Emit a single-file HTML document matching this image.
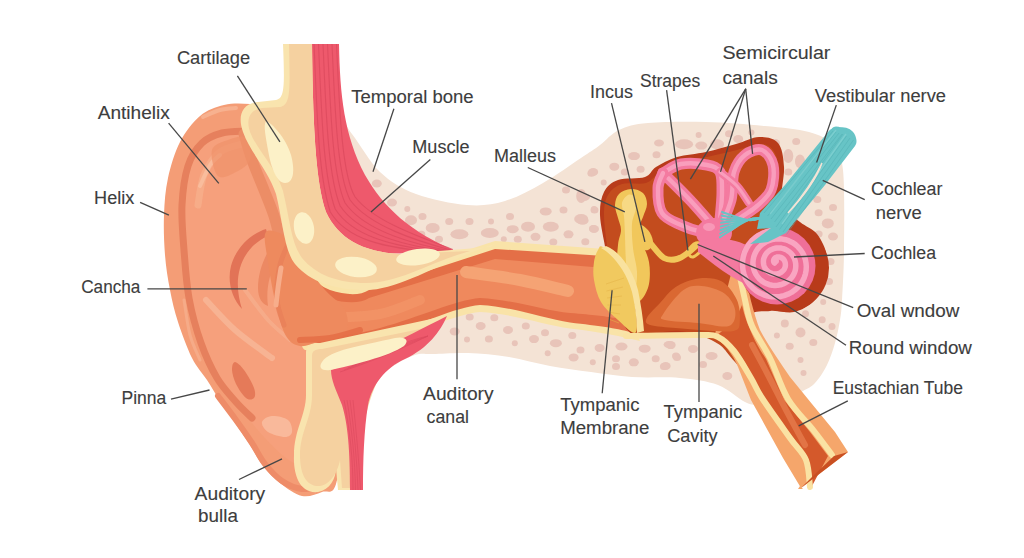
<!DOCTYPE html>
<html><head><meta charset="utf-8"><style>
html,body{margin:0;padding:0;background:#fff;width:1024px;height:558px;overflow:hidden}
svg{display:block}
text{font-family:"Liberation Sans",sans-serif;font-size:17.5px;fill:#3d3d3d;stroke:#3d3d3d;stroke-width:0.12px}
</style></head><body>
<svg width="1024" height="558" viewBox="0 0 1024 558">
<path d="M330.0,110.0 C332.8,97.3 343.7,123.7 352.0,134.0 C360.3,144.3 369.3,162.0 380.0,172.0 C390.7,182.0 401.5,188.5 416.0,194.0 C430.5,199.5 452.2,203.8 467.0,205.0 C481.8,206.2 492.3,204.7 505.0,201.0 C517.7,197.3 530.3,190.2 543.0,183.0 C555.7,175.8 571.5,164.3 581.0,158.0 C590.5,151.7 593.7,149.7 600.0,145.0 C606.3,140.3 611.0,133.7 619.0,130.0 C627.0,126.3 633.5,124.3 648.0,123.0 C662.5,121.7 686.5,121.5 706.0,122.0 C725.5,122.5 747.8,124.3 765.0,126.0 C782.2,127.7 797.7,128.8 809.0,132.0 C820.3,135.2 827.3,138.7 833.0,145.0 C838.7,151.3 841.2,152.5 843.0,170.0 C844.8,187.5 844.2,228.3 844.0,250.0 C843.8,271.7 842.7,288.3 842.0,300.0 C841.3,311.7 841.2,312.8 840.0,320.0 C838.8,327.2 837.2,335.5 835.0,343.0 C832.8,350.5 830.3,358.3 827.0,365.0 C823.7,371.7 819.0,378.7 815.0,383.0 C811.0,387.3 807.5,388.5 803.0,391.0 C798.5,393.5 792.7,396.2 788.0,398.0 C783.3,399.8 779.7,400.8 775.0,402.0 C770.3,403.2 765.0,405.0 760.0,405.0 C755.0,405.0 752.0,405.3 745.0,402.0 C738.0,398.7 728.8,389.0 718.0,385.0 C707.2,381.0 694.3,379.3 680.0,378.0 C665.7,376.7 646.8,378.0 632.0,377.0 C617.2,376.0 604.7,373.8 591.0,372.0 C577.3,370.2 563.7,368.5 550.0,366.0 C536.3,363.5 522.7,359.2 509.0,357.0 C495.3,354.8 480.7,353.5 468.0,353.0 C455.3,352.5 441.2,353.8 433.0,354.0 C424.8,354.2 423.7,353.2 419.0,354.0 C414.3,354.8 410.7,356.7 405.0,359.0 C399.3,361.3 390.8,369.5 385.0,368.0 C379.2,366.5 359.8,358.7 370.0,350.0 C380.2,341.3 429.3,330.7 446.0,316.0 C462.7,301.3 477.7,273.0 470.0,262.0 C462.3,251.0 422.5,258.7 400.0,250.0 C377.5,241.3 346.7,233.3 335.0,210.0 C323.3,186.7 327.2,122.7 330.0,110.0Z" fill="#f4e3d5" />
<ellipse cx="376.8" cy="183.5" rx="5" ry="4" fill="#e8c4b9"/>
<ellipse cx="392.0" cy="202.5" rx="5" ry="4" fill="#e8c4b9"/>
<ellipse cx="407.3" cy="208.9" rx="3" ry="3" fill="#e8c4b9"/>
<ellipse cx="411.0" cy="220.3" rx="6" ry="5" fill="#e8c4b9"/>
<ellipse cx="422.5" cy="216.5" rx="4" ry="3.5" fill="#e8c4b9"/>
<ellipse cx="432.7" cy="228.0" rx="7" ry="5" fill="#e8c4b9"/>
<ellipse cx="421.3" cy="234.3" rx="4" ry="3.5" fill="#e8c4b9"/>
<ellipse cx="439.0" cy="239.3" rx="4" ry="3.5" fill="#e8c4b9"/>
<ellipse cx="449.2" cy="221.6" rx="4" ry="3.5" fill="#e8c4b9"/>
<ellipse cx="459.4" cy="234.3" rx="9" ry="5" fill="#e8c4b9"/>
<ellipse cx="469.5" cy="221.6" rx="4" ry="3.5" fill="#e8c4b9"/>
<ellipse cx="489.8" cy="233.0" rx="9" ry="5" fill="#e8c4b9"/>
<ellipse cx="491.0" cy="221.6" rx="3" ry="3" fill="#e8c4b9"/>
<ellipse cx="510.0" cy="216.5" rx="4" ry="3.5" fill="#e8c4b9"/>
<ellipse cx="512.7" cy="229.2" rx="6" ry="4" fill="#e8c4b9"/>
<ellipse cx="528.0" cy="226.7" rx="7" ry="5" fill="#e8c4b9"/>
<ellipse cx="517.8" cy="239.3" rx="4" ry="3.5" fill="#e8c4b9"/>
<ellipse cx="535.5" cy="236.8" rx="5" ry="4" fill="#e8c4b9"/>
<ellipse cx="545.7" cy="211.4" rx="6" ry="4" fill="#e8c4b9"/>
<ellipse cx="550.8" cy="226.7" rx="8" ry="5" fill="#e8c4b9"/>
<ellipse cx="563.5" cy="210.0" rx="4" ry="3.5" fill="#e8c4b9"/>
<ellipse cx="568.5" cy="234.3" rx="5" ry="4" fill="#e8c4b9"/>
<ellipse cx="581.2" cy="219.0" rx="7" ry="5" fill="#e8c4b9"/>
<ellipse cx="566.0" cy="190.0" rx="4" ry="3.5" fill="#e8c4b9"/>
<ellipse cx="581.2" cy="196.0" rx="5" ry="7" fill="#e8c4b9"/>
<ellipse cx="591.4" cy="173.3" rx="4" ry="3.5" fill="#e8c4b9"/>
<ellipse cx="594.0" cy="209.0" rx="3" ry="3" fill="#e8c4b9"/>
<ellipse cx="594.0" cy="229.0" rx="5" ry="4" fill="#e8c4b9"/>
<ellipse cx="553.3" cy="241.9" rx="4" ry="3.5" fill="#e8c4b9"/>
<ellipse cx="503.8" cy="239.3" rx="3" ry="3" fill="#e8c4b9"/>
<ellipse cx="659.0" cy="143.0" rx="5" ry="3.5" fill="#e8c4b9"/>
<ellipse cx="684.1" cy="144.3" rx="9" ry="5" fill="#e8c4b9"/>
<ellipse cx="701.3" cy="145.6" rx="6" ry="4" fill="#e8c4b9"/>
<ellipse cx="717.0" cy="144.3" rx="7" ry="5" fill="#e8c4b9"/>
<ellipse cx="729.0" cy="133.7" rx="4" ry="3.5" fill="#e8c4b9"/>
<ellipse cx="738.2" cy="139.0" rx="5" ry="4" fill="#e8c4b9"/>
<ellipse cx="698.6" cy="135.0" rx="3" ry="3" fill="#e8c4b9"/>
<ellipse cx="751.4" cy="132.4" rx="3" ry="3" fill="#e8c4b9"/>
<ellipse cx="775.0" cy="143.0" rx="5" ry="4" fill="#e8c4b9"/>
<ellipse cx="796.2" cy="141.6" rx="4" ry="3.5" fill="#e8c4b9"/>
<ellipse cx="788.3" cy="156.0" rx="5" ry="7" fill="#e8c4b9"/>
<ellipse cx="800.0" cy="161.4" rx="5" ry="7" fill="#e8c4b9"/>
<ellipse cx="788.3" cy="172.0" rx="4" ry="3.5" fill="#e8c4b9"/>
<ellipse cx="634.0" cy="156.1" rx="6" ry="4" fill="#e8c4b9"/>
<ellipse cx="656.5" cy="154.8" rx="4" ry="3.5" fill="#e8c4b9"/>
<ellipse cx="614.3" cy="166.7" rx="5" ry="4" fill="#e8c4b9"/>
<ellipse cx="640.6" cy="169.3" rx="4" ry="3.5" fill="#e8c4b9"/>
<ellipse cx="624.8" cy="172.0" rx="4" ry="3.5" fill="#e8c4b9"/>
<ellipse cx="593.2" cy="172.0" rx="5" ry="4" fill="#e8c4b9"/>
<ellipse cx="603.7" cy="182.5" rx="3" ry="3" fill="#e8c4b9"/>
<ellipse cx="584.0" cy="197.0" rx="6" ry="4" fill="#e8c4b9"/>
<ellipse cx="594.5" cy="210.0" rx="4" ry="3.5" fill="#e8c4b9"/>
<ellipse cx="582.6" cy="220.7" rx="6" ry="4" fill="#e8c4b9"/>
<ellipse cx="593.2" cy="228.6" rx="4" ry="3.5" fill="#e8c4b9"/>
<ellipse cx="585.3" cy="241.8" rx="4" ry="3.5" fill="#e8c4b9"/>
<ellipse cx="817.3" cy="199.6" rx="4" ry="3.5" fill="#e8c4b9"/>
<ellipse cx="833.0" cy="207.5" rx="4" ry="3.5" fill="#e8c4b9"/>
<ellipse cx="818.6" cy="212.8" rx="4" ry="3.5" fill="#e8c4b9"/>
<ellipse cx="827.8" cy="223.4" rx="6" ry="5" fill="#e8c4b9"/>
<ellipse cx="818.6" cy="234.0" rx="4" ry="3.5" fill="#e8c4b9"/>
<ellipse cx="833.0" cy="236.5" rx="5" ry="4" fill="#e8c4b9"/>
<ellipse cx="469.7" cy="317.0" rx="4" ry="3.5" fill="#e8c4b9"/>
<ellipse cx="494.3" cy="317.8" rx="4" ry="3.5" fill="#e8c4b9"/>
<ellipse cx="480.7" cy="326.0" rx="5" ry="4" fill="#e8c4b9"/>
<ellipse cx="454.7" cy="331.4" rx="5" ry="4" fill="#e8c4b9"/>
<ellipse cx="508.0" cy="330.0" rx="5" ry="4" fill="#e8c4b9"/>
<ellipse cx="525.8" cy="326.0" rx="4" ry="3.5" fill="#e8c4b9"/>
<ellipse cx="545.0" cy="332.8" rx="4" ry="3.5" fill="#e8c4b9"/>
<ellipse cx="467.0" cy="339.6" rx="3" ry="3" fill="#e8c4b9"/>
<ellipse cx="488.9" cy="339.1" rx="4" ry="3.5" fill="#e8c4b9"/>
<ellipse cx="514.8" cy="343.2" rx="3" ry="3" fill="#e8c4b9"/>
<ellipse cx="534.0" cy="339.1" rx="5" ry="4" fill="#e8c4b9"/>
<ellipse cx="555.9" cy="343.2" rx="6" ry="4" fill="#e8c4b9"/>
<ellipse cx="572.3" cy="335.5" rx="4" ry="3.5" fill="#e8c4b9"/>
<ellipse cx="580.5" cy="350.0" rx="4" ry="3.5" fill="#e8c4b9"/>
<ellipse cx="547.7" cy="353.3" rx="3" ry="3" fill="#e8c4b9"/>
<ellipse cx="573.6" cy="357.4" rx="5" ry="4" fill="#e8c4b9"/>
<ellipse cx="599.6" cy="347.9" rx="5" ry="4" fill="#e8c4b9"/>
<ellipse cx="621.5" cy="346.5" rx="6" ry="4" fill="#e8c4b9"/>
<ellipse cx="644.7" cy="348.7" rx="6" ry="4" fill="#e8c4b9"/>
<ellipse cx="670.7" cy="345.1" rx="5" ry="4" fill="#e8c4b9"/>
<ellipse cx="616.0" cy="358.8" rx="4" ry="3.5" fill="#e8c4b9"/>
<ellipse cx="633.8" cy="362.3" rx="5" ry="4" fill="#e8c4b9"/>
<ellipse cx="655.7" cy="358.8" rx="4" ry="3.5" fill="#e8c4b9"/>
<ellipse cx="663.9" cy="366.4" rx="4" ry="3.5" fill="#e8c4b9"/>
<ellipse cx="616.0" cy="366.4" rx="4" ry="3.5" fill="#e8c4b9"/>
<ellipse cx="592.8" cy="362.3" rx="3" ry="3" fill="#e8c4b9"/>
<ellipse cx="676.0" cy="356.0" rx="4" ry="3.5" fill="#e8c4b9"/>
<ellipse cx="784.8" cy="323.6" rx="4" ry="4" fill="#e8c4b9"/>
<ellipse cx="800.5" cy="332.5" rx="5" ry="5" fill="#e8c4b9"/>
<ellipse cx="789.7" cy="346.3" rx="4" ry="3.5" fill="#e8c4b9"/>
<ellipse cx="813.3" cy="342.4" rx="4" ry="3.5" fill="#e8c4b9"/>
<ellipse cx="822.2" cy="319.7" rx="3.5" ry="3.5" fill="#e8c4b9"/>
<ellipse cx="832.0" cy="326.6" rx="3.5" ry="3.5" fill="#e8c4b9"/>
<ellipse cx="805.5" cy="313.8" rx="3.5" ry="3.5" fill="#e8c4b9"/>
<ellipse cx="776.9" cy="335.5" rx="3" ry="3" fill="#e8c4b9"/>
<ellipse cx="800.5" cy="360.0" rx="3" ry="3" fill="#e8c4b9"/>
<ellipse cx="803.5" cy="373.0" rx="3" ry="3" fill="#e8c4b9"/>
<ellipse cx="823.2" cy="302.0" rx="3" ry="3" fill="#e8c4b9"/>
<ellipse cx="829.0" cy="281.5" rx="4" ry="3.5" fill="#e8c4b9"/>
<ellipse cx="830.5" cy="261.5" rx="4" ry="3.5" fill="#e8c4b9"/>
<ellipse cx="668.6" cy="344.6" rx="5" ry="3.5" fill="#e8c4b9"/>
<ellipse cx="693.0" cy="348.9" rx="5" ry="4" fill="#e8c4b9"/>
<ellipse cx="711.6" cy="356.0" rx="6" ry="4" fill="#e8c4b9"/>
<ellipse cx="677.0" cy="357.5" rx="4" ry="3.5" fill="#e8c4b9"/>
<ellipse cx="665.7" cy="366.0" rx="5" ry="4" fill="#e8c4b9"/>
<ellipse cx="703.0" cy="364.6" rx="4" ry="3.5" fill="#e8c4b9"/>
<ellipse cx="727.3" cy="376.0" rx="5" ry="4" fill="#e8c4b9"/>
<path d="M311,44 L339,44 C340,95 344,135 365,175 C384,208 410,232 458,252 L380,254 C352,250 333,235 324,212 C315,180 313,120 311,44Z" fill="#ee596c"/>
<path d="M314.0,44 C317.0,110 318.1,175 330.3,212.0 C345.9,238.0 381.0,249.0 441.5,252.0" fill="none" stroke="#dc4a5e" stroke-width="1.1" opacity="0.8"/>
<path d="M318.5,44 C321.5,110 322.9,175 335.2,209.0 C351.8,235.0 390.0,247.0 443.8,251.5" fill="none" stroke="#dc4a5e" stroke-width="1.1" opacity="0.8"/>
<path d="M323.0,44 C326.0,110 327.6,175 340.2,206.0 C357.6,232.0 399.0,245.0 446.0,251.0" fill="none" stroke="#dc4a5e" stroke-width="1.1" opacity="0.8"/>
<path d="M327.5,44 C330.5,110 332.3,175 345.1,203.0 C363.4,229.0 408.0,243.0 448.2,250.5" fill="none" stroke="#dc4a5e" stroke-width="1.1" opacity="0.8"/>
<path d="M332.0,44 C335.0,110 337.1,175 350.1,200.0 C369.3,226.0 417.0,241.0 450.5,250.0" fill="none" stroke="#dc4a5e" stroke-width="1.1" opacity="0.8"/>
<path d="M336.5,44 C339.5,110 341.8,175 355.1,197.0 C375.1,223.0 426.0,239.0 452.8,249.5" fill="none" stroke="#dc4a5e" stroke-width="1.1" opacity="0.8"/>
<path d="M250.0,104.0 C241.3,103.5 232.3,103.0 224.0,105.0 C215.7,107.0 207.3,109.8 200.0,116.0 C192.7,122.2 185.3,131.7 180.0,142.0 C174.7,152.3 170.7,165.8 168.0,178.0 C165.3,190.2 164.5,202.2 164.0,215.0 C163.5,227.8 164.0,242.5 165.0,255.0 C166.0,267.5 167.8,278.8 170.0,290.0 C172.2,301.2 174.3,310.7 178.0,322.0 C181.7,333.3 187.2,348.3 192.0,358.0 C196.8,367.7 202.3,372.8 207.0,380.0 C211.7,387.2 215.3,393.8 220.0,401.0 C224.7,408.2 230.0,415.7 235.0,423.0 C240.0,430.3 245.3,437.8 250.0,445.0 C254.7,452.2 258.0,459.7 263.0,466.0 C268.0,472.3 273.5,478.0 280.0,483.0 C286.5,488.0 295.0,494.5 302.0,496.0 C309.0,497.5 316.3,494.0 322.0,492.0 C327.7,490.0 332.2,496.0 336.0,484.0 C339.8,472.0 346.0,444.0 345.0,420.0 C344.0,396.0 335.8,363.3 330.0,340.0 C324.2,316.7 315.0,300.0 310.0,280.0 C305.0,260.0 303.3,241.7 300.0,220.0 C296.7,198.3 294.0,168.7 290.0,150.0 C286.0,131.3 282.7,115.7 276.0,108.0 C269.3,100.3 258.7,104.5 250.0,104.0Z" fill="#f49d76" />
<path d="M248.0,128.0 C241.3,128.5 230.0,128.7 222.0,131.0 C214.0,133.3 205.8,136.2 200.0,142.0 C194.2,147.8 190.2,155.5 187.0,166.0 C183.8,176.5 181.7,191.0 181.0,205.0 C180.3,219.0 181.8,234.5 183.0,250.0 C184.2,265.5 185.2,282.5 188.0,298.0 C190.8,313.5 195.3,329.7 200.0,343.0 C204.7,356.3 209.3,367.2 216.0,378.0 C222.7,388.8 231.8,398.0 240.0,408.0 C248.2,418.0 256.3,429.0 265.0,438.0 C273.7,447.0 282.8,456.7 292.0,462.0 C301.2,467.3 311.2,477.0 320.0,470.0 C328.8,463.0 343.3,441.7 345.0,420.0 C346.7,398.3 335.8,363.3 330.0,340.0 C324.2,316.7 315.0,300.0 310.0,280.0 C305.0,260.0 303.3,241.7 300.0,220.0 C296.7,198.3 296.3,165.3 290.0,150.0 C283.7,134.7 269.0,131.7 262.0,128.0 C255.0,124.3 254.7,127.5 248.0,128.0Z" fill="#f6a07c" />
<path d="M246.0,131.0 C242.0,131.3 229.3,131.0 222.0,133.0 C214.7,135.0 207.7,137.5 202.0,143.0 C196.3,148.5 191.3,155.7 188.0,166.0 C184.7,176.3 182.7,191.0 182.0,205.0 C181.3,219.0 182.8,234.5 184.0,250.0 C185.2,265.5 186.2,282.5 189.0,298.0 C191.8,313.5 196.3,329.7 201.0,343.0 C205.7,356.3 211.2,368.2 217.0,378.0 C222.8,387.8 230.2,395.3 236.0,402.0 C241.8,408.7 249.3,415.3 252.0,418.0" fill="none" stroke="#e6805d" stroke-width="7" stroke-linecap="round" stroke-linejoin="round" />
<path d="M203.0,117.0 C205.8,115.8 214.5,111.5 220.0,110.0 C225.5,108.5 233.3,108.3 236.0,108.0" fill="none" stroke="#f7b18f" stroke-width="4" stroke-linecap="round" stroke-linejoin="round" />
<path d="M184.0,300.0 C185.0,305.8 187.3,325.0 190.0,335.0 C192.7,345.0 198.3,355.8 200.0,360.0" fill="none" stroke="#f6ab88" stroke-width="3" stroke-linecap="round" stroke-linejoin="round" />
<path d="M198.0,205.0 C199.0,200.0 200.3,183.8 204.0,175.0 C207.7,166.2 213.0,157.3 220.0,152.0 C227.0,146.7 241.7,144.5 246.0,143.0" fill="none" stroke="#f7ae8b" stroke-width="7" stroke-linecap="round" stroke-linejoin="round" opacity="0.85"/>
<path d="M200.0,186.0 C201.7,182.5 206.7,170.2 210.0,165.0 C213.3,159.8 218.3,156.7 220.0,155.0" fill="none" stroke="#f9bc9c" stroke-width="4" stroke-linecap="round" stroke-linejoin="round" />
<path d="M206.0,300.0 C210.8,305.0 224.0,320.3 235.0,330.0 C246.0,339.7 265.8,353.3 272.0,358.0" fill="none" stroke="#f7b393" stroke-width="6" stroke-linecap="round" stroke-linejoin="round" />
<path d="M245.0,290.0 C248.8,295.0 260.5,311.7 268.0,320.0 C275.5,328.3 286.3,336.7 290.0,340.0" fill="none" stroke="#f7b393" stroke-width="4" stroke-linecap="round" stroke-linejoin="round" opacity="0.6"/>
<path d="M235.0,362.0 C237.0,362.0 240.8,365.7 244.0,370.0 C247.2,374.3 252.3,383.3 254.0,388.0 C255.7,392.7 255.3,396.3 254.0,398.0 C252.7,399.7 249.0,400.3 246.0,398.0 C243.0,395.7 238.3,388.7 236.0,384.0 C233.7,379.3 232.2,373.7 232.0,370.0 C231.8,366.3 233.0,362.0 235.0,362.0Z" fill="#e57a59" />
<path d="M244.0,134.0 C245.3,138.3 248.7,150.7 252.0,160.0 C255.3,169.3 260.3,180.7 264.0,190.0 C267.7,199.3 271.3,207.7 274.0,216.0 C276.7,224.3 279.0,236.0 280.0,240.0" fill="none" stroke="#ec8d66" stroke-width="11" stroke-linecap="round" stroke-linejoin="round" />
<path d="M212.0,150.0 C213.7,144.0 222.3,142.0 228.0,140.0 C233.7,138.0 242.3,134.7 246.0,138.0 C249.7,141.3 251.7,154.3 250.0,160.0 C248.3,165.7 241.3,169.3 236.0,172.0 C230.7,174.7 222.0,179.7 218.0,176.0 C214.0,172.3 210.3,156.0 212.0,150.0Z" fill="#ef9169" opacity="0.7"/>
<path d="M266,229 C250,234 236,248 231,266 C227,282 232,298 242,309 C238,296 236,282 240,268 C244,254 254,242 268,236Z" fill="#e27357"/>
<path d="M276,240 C266,252 258,270 258,288 C258,298 262,304 268,306 C266,292 268,274 280,252Z" fill="#ec8963"/>
<path d="M262.0,422.0 C262.7,419.3 267.7,416.3 272.0,416.0 C276.3,415.7 284.7,417.3 288.0,420.0 C291.3,422.7 292.5,429.2 292.0,432.0 C291.5,434.8 289.0,437.0 285.0,437.0 C281.0,437.0 271.8,434.5 268.0,432.0 C264.2,429.5 261.3,424.7 262.0,422.0Z" fill="#f9b99b" />
<path d="M218.0,396.0 C221.0,400.0 230.3,412.2 236.0,420.0 C241.7,427.8 247.2,435.7 252.0,443.0 C256.8,450.3 260.0,457.7 265.0,464.0 C270.0,470.3 275.8,476.8 282.0,481.0 C288.2,485.2 295.7,488.2 302.0,489.0 C308.3,489.8 317.0,486.5 320.0,486.0" fill="none" stroke="#ee8c68" stroke-width="6" stroke-linecap="round" stroke-linejoin="round" />
<path d="M288,240 C295,250 310,270 330,278 C345,283 360,283 369,282 L495,241 L605,249 L640,341 C620,336 600,332 570,328.5 C545,325 515,314 480,312 C455,314 420,332 380,344 C360,350 340,352 330,352 L305,350 C298,345 292,320 288,240Z" fill="#f9e3a8"/>
<path d="M280,246 C290,256 310,282 330,290 C345,295 360,296 369,290 L495,249 L605,256 L630,332 C615,328 600,326 570,322.5 C545,319 515,307 480,305 C455,307 420,325 380,336 C360,342 340,344 330,344 L305,342 C296,335 288,320 280,246Z" fill="#e46f47"/>
<path d="M270,255 C285,270 310,292 330,299 C345,303 360,304 369,298 L495,259 L605,268 L615,318 C603,316 595,315 570,313 C545,311 515,300 480,298 C455,300 420,317 380,328 C360,334 340,336 330,336 L305,334 C292,328 280,310 270,255Z" fill="#ef895d"/>
<path d="M466.0,272.0 C475.0,273.3 503.0,276.8 520.0,280.0 C537.0,283.2 560.0,289.2 568.0,291.0" fill="none" stroke="#f5a374" stroke-width="12" stroke-linecap="round" stroke-linejoin="round" />
<path d="M330.0,318.0 C338.3,317.3 365.0,317.0 380.0,314.0 C395.0,311.0 413.3,302.3 420.0,300.0" fill="none" stroke="#f3986b" stroke-width="10" stroke-linecap="round" stroke-linejoin="round" opacity="0.6"/>
<path d="M266.0,232.0 C269.3,228.0 281.7,233.0 288.0,238.0 C294.3,243.0 297.8,253.3 304.0,262.0 C310.2,270.7 318.2,282.0 325.0,290.0 C331.8,298.0 341.7,302.7 345.0,310.0 C348.3,317.3 349.5,328.7 345.0,334.0 C340.5,339.3 325.5,340.0 318.0,342.0 C310.5,344.0 305.3,347.0 300.0,346.0 C294.7,345.0 290.0,342.8 286.0,336.0 C282.0,329.2 279.0,317.3 276.0,305.0 C273.0,292.7 269.7,274.2 268.0,262.0 C266.3,249.8 262.7,236.0 266.0,232.0Z" fill="#ee8a5e" />
<path d="M300.0,340.0 C305.0,339.7 320.0,339.7 330.0,338.0 C340.0,336.3 355.0,331.3 360.0,330.0" fill="none" stroke="#e46f47" stroke-width="6" stroke-linecap="round" stroke-linejoin="round" opacity="0.9"/>
<path d="M290.0,240.0 C288.3,244.2 282.2,255.0 280.0,265.0 C277.8,275.0 276.3,290.0 277.0,300.0 C277.7,310.0 282.8,320.8 284.0,325.0" fill="none" stroke="#e97f59" stroke-width="5" stroke-linecap="round" stroke-linejoin="round" opacity="0.8"/>
<path d="M281.0,268.0 C280.5,271.3 278.8,281.8 278.0,288.0 C277.2,294.2 276.3,302.2 276.0,305.0" fill="none" stroke="#f7ad8b" stroke-width="5" stroke-linecap="round" stroke-linejoin="round" />
<path d="M281,44 L312,44 C313,120 315,180 326,212 C338,238 362,252 400,254 L490,247 L495,244 C440,262 400,290 366,290 C335,290 310,282 295,264 C284,250 283,222 276,194 C268,170 250,152 243,132 C238,118 240,104 258,102 L276,100 C284,98 285,90 283,44Z" fill="#f9e4ae"/>
<path d="M288,44 L312,44 C313,120 315,180 326,212 C338,238 362,252 400,254 L470,251 C430,262 400,283 366,283 C338,283 316,275 302,258 C291,243 290,220 283,191 C275,166 257,150 250,132 C246,120 249,110 262,108 L280,107 C291,105 290,90 289,44Z" fill="#f5d1a0"/>
<path d="M266,121 C272,123 286,138 291,155 C295,170 294,183 285,183 C277,183 271,168 268,150 C266,138 263,125 266,121Z" fill="#fcf1c8"/>
<ellipse cx="304" cy="228" rx="10" ry="16" fill="#fcf1c8" transform="rotate(-10 304 228)"/>
<ellipse cx="356" cy="267" rx="21" ry="10" fill="#fcf1c8" transform="rotate(8 356 267)"/>
<ellipse cx="418" cy="257" rx="22" ry="8" fill="#fcf1c8" transform="rotate(-8 418 257)"/>
<path d="M306,352 C306,346 312,343 320,343 L445,316 C425,335 395,352 372,366 C358,380 354,430 354,490 L338,490 L336,468 C336,478 330,490 318,492 C300,494 293,475 294,455 C294,430 306,415 306,395Z" fill="#f9e4ae"/>
<path d="M312,356 C312,351 315,349 322,349 L440,325 C420,345 392,362 378,380 C368,400 358,440 356,488 L342,488 L340,460 C338,470 332,484 320,486 C305,487 300,472 300,455 C300,432 312,418 312,395Z" fill="#f5d1a0"/>
<path d="M331,370 C360,360 400,340 447,316 C440,332 428,348 405,359 C385,368 372,385 368,405 C364,430 363,460 363,490 L350,490 C350,450 348,425 342,405 C336,390 331,380 331,370Z" fill="#ee596c"/>
<path d="M340,372 C365,364 395,352 428,336" fill="none" stroke="#dc4a5e" stroke-width="1" opacity="0.6"/>
<path d="M344,400 C350,430 353,460 353.0,490" fill="none" stroke="#dc4a5e" stroke-width="1" opacity="0.6"/>
<path d="M344,370 C369,361 399,348 428,336" fill="none" stroke="#dc4a5e" stroke-width="1" opacity="0.6"/>
<path d="M347,400 C352,430 355,460 355.5,490" fill="none" stroke="#dc4a5e" stroke-width="1" opacity="0.6"/>
<path d="M348,368 C373,358 403,344 428,336" fill="none" stroke="#dc4a5e" stroke-width="1" opacity="0.6"/>
<path d="M350,400 C354,430 357,460 358.0,490" fill="none" stroke="#dc4a5e" stroke-width="1" opacity="0.6"/>
<path d="M352,366 C377,355 407,340 428,336" fill="none" stroke="#dc4a5e" stroke-width="1" opacity="0.6"/>
<path d="M353,400 C356,430 359,460 360.5,490" fill="none" stroke="#dc4a5e" stroke-width="1" opacity="0.6"/>
<path d="M322,362 C330,350 360,346 395,338 C405,336 410,340 404,346 C390,356 350,366 330,370 C322,371 318,368 322,362Z" fill="#fcf1c8"/>
<path d="M612.0,290.0 C607.7,276.3 608.0,264.5 606.0,252.0 C604.0,239.5 600.3,225.0 600.0,215.0 C599.7,205.0 601.0,197.8 604.0,192.0 C607.0,186.2 611.2,182.5 618.0,180.0 C624.8,177.5 638.7,179.2 645.0,177.0 C651.3,174.8 650.7,170.3 656.0,167.0 C661.3,163.7 668.7,159.5 677.0,157.0 C685.3,154.5 696.2,154.2 706.0,152.0 C715.8,149.8 727.2,146.5 736.0,144.0 C744.8,141.5 752.0,137.2 759.0,137.0 C766.0,136.8 773.8,138.0 778.0,143.0 C782.2,148.0 783.3,156.7 784.0,167.0 C784.7,177.3 779.3,195.8 782.0,205.0 C784.7,214.2 794.2,217.2 800.0,222.0 C805.8,226.8 812.5,228.3 817.0,234.0 C821.5,239.7 825.5,248.2 827.0,256.0 C828.5,263.8 828.2,273.5 826.0,281.0 C823.8,288.5 819.3,295.8 814.0,301.0 C808.7,306.2 801.3,310.3 794.0,312.0 C786.7,313.7 777.3,309.7 770.0,311.0 C762.7,312.3 750.0,308.5 750.0,320.0 C750.0,331.5 761.7,355.0 770.0,380.0 C778.3,405.0 796.7,461.7 800.0,470.0 C803.3,478.3 800.8,448.3 790.0,430.0 C779.2,411.7 746.7,375.0 735.0,360.0 C723.3,345.0 729.2,344.3 720.0,340.0 C710.8,335.7 694.7,335.0 680.0,334.0 C665.3,333.0 643.3,341.3 632.0,334.0 C620.7,326.7 616.3,303.7 612.0,290.0Z" fill="#b83b1a" />
<path d="M614.0,290.0 C609.7,276.8 609.7,264.5 608.0,252.0 C606.3,239.5 604.0,224.5 604.0,215.0 C604.0,205.5 605.0,200.2 608.0,195.0 C611.0,189.8 615.7,186.0 622.0,184.0 C628.3,182.0 639.7,185.0 646.0,183.0 C652.3,181.0 654.3,175.5 660.0,172.0 C665.7,168.5 672.2,164.5 680.0,162.0 C687.8,159.5 697.5,159.0 707.0,157.0 C716.5,155.0 728.2,152.2 737.0,150.0 C745.8,147.8 754.0,144.0 760.0,144.0 C766.0,144.0 770.0,146.0 773.0,150.0 C776.0,154.0 777.5,158.8 778.0,168.0 C778.5,177.2 773.0,195.3 776.0,205.0 C779.0,214.7 790.0,220.5 796.0,226.0 C802.0,231.5 807.8,232.8 812.0,238.0 C816.2,243.2 819.7,250.0 821.0,257.0 C822.3,264.0 821.8,273.3 820.0,280.0 C818.2,286.7 814.7,292.7 810.0,297.0 C805.3,301.3 798.7,304.8 792.0,306.0 C785.3,307.2 777.3,305.0 770.0,304.0 C762.7,303.0 748.0,287.3 748.0,300.0 C748.0,312.7 762.2,352.5 770.0,380.0 C777.8,407.5 791.7,456.7 795.0,465.0 C798.3,473.3 800.0,447.2 790.0,430.0 C780.0,412.8 747.5,376.7 735.0,362.0 C722.5,347.3 724.2,347.2 715.0,342.0 C705.8,336.8 693.5,332.8 680.0,331.0 C666.5,329.2 645.0,337.8 634.0,331.0 C623.0,324.2 618.3,303.2 614.0,290.0Z" fill="#c34c1e" />
<path d="M714,337 C728,346 736,360 740,372 L751,400 L783,458 L801,488 L848,452 L835,432 L812,404 L790,377 C780,362 768,345 760,330 C754,315 748,290 742,262 L734,262 C727,290 720,318 714,337Z" fill="#f5a66b"/>
<path d="M742,305 C744,314 746,320 749,327 C755,342 760,350 766,359 L784,400 L810,432 L828,456 L812,486 L808,458 L765,400 C760,390 756,383 753,378 C747,366 742,356 737,353 C730,345 722,340 712,338 C722,332 736,322 742,305Z" fill="#d4592b"/>
<path d="M752.0,345.0 C754.7,350.0 762.3,364.2 768.0,375.0 C773.7,385.8 779.8,398.3 786.0,410.0 C792.2,421.7 801.8,439.2 805.0,445.0" fill="none" stroke="#e4794a" stroke-width="6" stroke-linecap="round" stroke-linejoin="round" opacity="0.85"/>
<path d="M737.0,262.0 C738.3,268.3 742.5,289.3 745.0,300.0 C747.5,310.7 747.8,316.3 752.0,326.0 C756.2,335.7 764.0,345.8 770.0,358.0 C776.0,370.2 780.7,386.8 788.0,399.0 C795.3,411.2 806.7,421.7 814.0,431.0 C821.3,440.3 829.0,451.0 832.0,455.0" fill="none" stroke="#fae2a3" stroke-width="6" stroke-linecap="round" stroke-linejoin="round" />
<path d="M626.0,336.0 C638.3,335.8 684.7,334.8 700.0,335.0 C715.3,335.2 712.3,334.3 718.0,337.0 C723.7,339.7 728.5,344.2 734.0,351.0 C739.5,357.8 746.3,370.2 751.0,378.0 C755.7,385.8 755.5,388.0 762.0,398.0 C768.5,408.0 782.7,427.7 790.0,438.0 C797.3,448.3 802.7,451.8 806.0,460.0 C809.3,468.2 809.3,482.5 810.0,487.0" fill="none" stroke="#fae2a3" stroke-width="6" stroke-linecap="round" stroke-linejoin="round" />
<path d="M801,488 L848,452 L834,456 L812,477 Z" fill="#c94f22"/>
<path d="M798,489 L803,489 L800,486Z" fill="#f5a66b"/>
<path d="M646.8,318.0 C648.5,314.3 655.2,308.2 660.0,303.0 C664.8,297.8 669.3,291.1 675.7,287.0 C682.1,282.9 691.0,279.4 698.6,278.5 C706.2,277.6 715.1,277.8 721.5,281.3 C727.9,284.8 733.7,293.0 736.7,299.6 C739.8,306.2 740.3,315.8 739.8,321.0 C739.3,326.2 740.3,329.5 733.7,331.0 C727.1,332.5 709.7,330.5 700.0,330.0 C690.3,329.5 684.0,328.8 675.7,328.0 C667.4,327.2 654.8,326.7 650.0,325.0 C645.2,323.3 645.1,321.7 646.8,318.0Z" fill="#da6832" />
<path d="M663.5,313.4 C666.6,308.4 677.0,294.6 683.4,290.0 C689.8,285.4 694.8,285.4 701.6,286.0 C708.5,286.6 718.9,289.4 724.5,293.5 C730.1,297.6 734.5,304.9 735.2,310.3 C736.0,315.7 735.1,323.9 729.0,326.0 C722.9,328.1 709.3,324.0 698.6,323.0 C687.9,322.0 670.9,321.6 665.0,320.0 C659.1,318.4 660.4,318.4 663.5,313.4Z" fill="#e8834f" />
<path d="M642.0,232.0 C643.5,234.0 647.3,239.7 651.0,244.0 C654.7,248.3 659.7,255.5 664.0,258.0 C668.3,260.5 672.8,260.0 677.0,259.0 C681.2,258.0 685.7,254.3 689.0,252.0 C692.3,249.7 695.7,246.2 697.0,245.0" fill="none" stroke="#f1c75b" stroke-width="6" stroke-linecap="round" stroke-linejoin="round" />
<path d="M696.0,243.0 C698.8,242.2 705.5,243.7 705.0,246.0 C704.5,248.3 695.8,256.2 693.0,257.0 C690.2,257.8 687.5,253.3 688.0,251.0 C688.5,248.7 693.2,243.8 696.0,243.0Z" fill="none" stroke="#f1c75b" stroke-width="3" stroke-linecap="round" stroke-linejoin="round" />
<path d="M638.0,225.0 C639.3,222.3 645.5,227.2 648.0,230.0 C650.5,232.8 653.0,238.7 653.0,242.0 C653.0,245.3 650.2,249.3 648.0,250.0 C645.8,250.7 641.7,250.2 640.0,246.0 C638.3,241.8 636.7,227.7 638.0,225.0Z" fill="#f1c75b" />
<path d="M631.0,189.0 C635.0,188.8 640.3,190.5 643.0,193.0 C645.7,195.5 647.0,200.0 647.0,204.0 C647.0,208.0 644.3,213.0 643.0,217.0 C641.7,221.0 639.2,223.8 639.0,228.0 C638.8,232.2 640.3,236.3 642.0,242.0 C643.7,247.7 647.8,255.0 649.0,262.0 C650.2,269.0 650.2,277.8 649.0,284.0 C647.8,290.2 644.8,295.7 642.0,299.0 C639.2,302.3 635.3,304.5 632.0,304.0 C628.7,303.5 624.5,301.3 622.0,296.0 C619.5,290.7 617.7,280.5 617.0,272.0 C616.3,263.5 617.3,252.0 618.0,245.0 C618.7,238.0 621.0,234.5 621.0,230.0 C621.0,225.5 619.0,222.2 618.0,218.0 C617.0,213.8 614.8,209.0 615.0,205.0 C615.2,201.0 616.3,196.7 619.0,194.0 C621.7,191.3 627.0,189.2 631.0,189.0Z" fill="#f1c75b" />
<path d="M628.0,195.0 C630.0,194.0 632.7,194.8 634.0,197.0 C635.3,199.2 636.3,203.5 636.0,208.0 C635.7,212.5 632.5,217.3 632.0,224.0 C631.5,230.7 632.2,240.0 633.0,248.0 C633.8,256.0 636.7,265.0 637.0,272.0 C637.3,279.0 636.3,287.0 635.0,290.0 C633.7,293.0 630.5,294.7 629.0,290.0 C627.5,285.3 626.7,271.0 626.0,262.0 C625.3,253.0 625.3,243.7 625.0,236.0 C624.7,228.3 624.5,221.5 624.0,216.0 C623.5,210.5 621.3,206.5 622.0,203.0 C622.7,199.5 626.0,196.0 628.0,195.0Z" fill="#f8dc8c" opacity="0.85"/>
<path d="M598.0,250.0 C599.5,247.5 599.2,244.8 603.0,247.0 C606.8,249.2 616.0,255.2 621.0,263.0 C626.0,270.8 630.5,282.5 633.0,294.0 C635.5,305.5 638.5,327.7 636.0,332.0 C633.5,336.3 623.8,325.0 618.0,320.0 C612.2,315.0 605.0,308.7 601.0,302.0 C597.0,295.3 595.2,286.7 594.0,280.0 C592.8,273.3 593.3,267.0 594.0,262.0 C594.7,257.0 596.5,252.5 598.0,250.0Z" fill="#f1c95f" />
<path d="M624,278 L606.0,284" stroke="#e6b54a" stroke-width="0.8" opacity="0.7"/>
<path d="M623,287 L606.5,291" stroke="#e6b54a" stroke-width="0.8" opacity="0.7"/>
<path d="M622,296 L607.0,298" stroke="#e6b54a" stroke-width="0.8" opacity="0.7"/>
<path d="M621,305 L607.5,305" stroke="#e6b54a" stroke-width="0.8" opacity="0.7"/>
<path d="M620,314 L608.0,312" stroke="#e6b54a" stroke-width="0.8" opacity="0.7"/>
<path d="M619,323 L608.5,319" stroke="#e6b54a" stroke-width="0.8" opacity="0.7"/>
<path d="M601,248 C612,254 626,270 632,292 C636,310 637,322 637,333 L644,331 C643,318 641,305 638,290 C632,268 620,252 606,246Z" fill="#f9e29f"/>
<path d="M713.0,226.0 C709.2,221.7 698.3,208.8 690.0,200.0 C681.7,191.2 667.5,177.5 663.0,173.0" fill="none" stroke="#f47aa0" stroke-width="11" stroke-linecap="round" stroke-linejoin="round" />
<path d="M713.0,226.0 C709.2,221.7 698.3,208.8 690.0,200.0 C681.7,191.2 667.5,177.5 663.0,173.0" fill="none" stroke="#f9a5c1" stroke-width="4.4" stroke-linecap="round" stroke-linejoin="round" opacity="0.85"/>
<path d="M663.0,173.0 C666.0,171.5 673.7,165.3 681.0,164.0 C688.3,162.7 700.5,163.7 707.0,165.0 C713.5,166.3 717.5,167.3 720.0,172.0 C722.5,176.7 722.0,185.0 722.0,193.0 C722.0,201.0 720.3,215.5 720.0,220.0" fill="none" stroke="#f47aa0" stroke-width="11" stroke-linecap="round" stroke-linejoin="round" />
<path d="M663.0,173.0 C666.0,171.5 673.7,165.3 681.0,164.0 C688.3,162.7 700.5,163.7 707.0,165.0 C713.5,166.3 717.5,167.3 720.0,172.0 C722.5,176.7 722.0,185.0 722.0,193.0 C722.0,201.0 720.3,215.5 720.0,220.0" fill="none" stroke="#f9a5c1" stroke-width="4.4" stroke-linecap="round" stroke-linejoin="round" opacity="0.85"/>
<path d="M663.0,173.0 C662.2,175.5 658.2,181.3 658.0,188.0 C657.8,194.7 658.2,206.8 662.0,213.0 C665.8,219.2 674.3,221.8 681.0,225.0 C687.7,228.2 696.5,230.8 702.0,232.0 C707.5,233.2 712.0,232.0 714.0,232.0" fill="none" stroke="#f47aa0" stroke-width="11" stroke-linecap="round" stroke-linejoin="round" />
<path d="M663.0,173.0 C662.2,175.5 658.2,181.3 658.0,188.0 C657.8,194.7 658.2,206.8 662.0,213.0 C665.8,219.2 674.3,221.8 681.0,225.0 C687.7,228.2 696.5,230.8 702.0,232.0 C707.5,233.2 712.0,232.0 714.0,232.0" fill="none" stroke="#f9a5c1" stroke-width="4.4" stroke-linecap="round" stroke-linejoin="round" opacity="0.85"/>
<path d="M720.0,228.0 C721.8,223.3 728.7,209.3 731.0,200.0 C733.3,190.7 731.7,179.5 734.0,172.0 C736.3,164.5 740.3,158.7 745.0,155.0 C749.7,151.3 757.3,148.3 762.0,150.0 C766.7,151.7 771.5,158.3 773.0,165.0 C774.5,171.7 773.7,183.2 771.0,190.0 C768.3,196.8 762.2,201.3 757.0,206.0 C751.8,210.7 745.8,213.7 740.0,218.0 C734.2,222.3 725.0,229.7 722.0,232.0" fill="none" stroke="#f47aa0" stroke-width="11" stroke-linecap="round" stroke-linejoin="round" />
<path d="M720.0,228.0 C721.8,223.3 728.7,209.3 731.0,200.0 C733.3,190.7 731.7,179.5 734.0,172.0 C736.3,164.5 740.3,158.7 745.0,155.0 C749.7,151.3 757.3,148.3 762.0,150.0 C766.7,151.7 771.5,158.3 773.0,165.0 C774.5,171.7 773.7,183.2 771.0,190.0 C768.3,196.8 762.2,201.3 757.0,206.0 C751.8,210.7 745.8,213.7 740.0,218.0 C734.2,222.3 725.0,229.7 722.0,232.0" fill="none" stroke="#f9a5c1" stroke-width="4.4" stroke-linecap="round" stroke-linejoin="round" opacity="0.85"/>
<path d="M720.0,172.0 C722.8,174.3 732.2,180.8 737.0,186.0 C741.8,191.2 747.0,200.2 749.0,203.0" fill="none" stroke="#f47aa0" stroke-width="8" stroke-linecap="round" stroke-linejoin="round" />
<path d="M720.0,172.0 C722.8,174.3 732.2,180.8 737.0,186.0 C741.8,191.2 747.0,200.2 749.0,203.0" fill="none" stroke="#f9a5c1" stroke-width="3.2" stroke-linecap="round" stroke-linejoin="round" opacity="0.85"/>
<ellipse cx="714" cy="233" rx="18" ry="15" fill="#f47aa0"/>
<ellipse cx="709" cy="227" rx="6" ry="4" fill="#f9a5c1" opacity="0.7"/>
<circle cx="785" cy="268" r="44" fill="#b83b1a"/>
<path d="M698,243 C712,236 735,238 752,248 L762,290 C740,285 718,268 698,252Z" fill="#f47aa0"/>
<circle cx="777" cy="266" r="38.5" fill="#ef6f98"/>
<path d="M774.6,263.0 L774.3,262.8 L774.1,262.5 L773.9,262.1 L773.7,261.7 L773.6,261.2 L773.6,260.8 L773.7,260.2 L773.8,259.7 L774.1,259.2 L774.4,258.7 L774.8,258.3 L775.3,257.8 L775.9,257.5 L776.6,257.2 L777.3,257.0 L778.1,256.9 L778.9,256.9 L779.8,257.1 L780.6,257.3 L781.4,257.7 L782.2,258.2 L783.0,258.8 L783.7,259.5 L784.2,260.3 L784.7,261.2 L785.1,262.2 L785.3,263.3 L785.4,264.4 L785.4,265.5 L785.2,266.7 L784.8,267.8 L784.3,268.9 L783.6,270.0 L782.7,271.0 L781.8,271.8 L780.6,272.6 L779.4,273.2 L778.1,273.7 L776.7,273.9 L775.3,274.0 L773.8,274.0 L772.3,273.7 L770.9,273.2 L769.5,272.5 L768.2,271.7 L767.0,270.6 L765.9,269.4 L765.0,268.1 L764.3,266.6 L763.8,265.0 L763.5,263.3 L763.4,261.6 L763.5,259.9 L763.9,258.2 L764.6,256.5 L765.4,254.8 L766.5,253.3 L767.9,251.9 L769.4,250.7 L771.1,249.7 L772.9,248.9 L774.9,248.3 L776.9,248.0 L779.1,247.9 L781.2,248.1 L783.3,248.6 L785.4,249.4 L787.3,250.4 L789.2,251.7 L790.9,253.2 L792.4,255.0 L793.6,257.0 L794.6,259.1 L795.3,261.4 L795.7,263.7 L795.8,266.1 L795.6,268.6 L795.1,271.0 L794.2,273.4 L793.0,275.6 L791.6,277.7 L789.8,279.6 L787.8,281.3 L785.5,282.8 L783.1,283.9 L780.5,284.8 L777.8,285.3 L775.0,285.4 L772.2,285.2 L769.4,284.7 L766.7,283.7 L764.1,282.5 L761.7,280.9 L759.5,279.0 L757.6,276.8 L755.9,274.3 L754.6,271.6 L753.7,268.8 L753.1,265.9 L752.9,262.8 L753.2,259.8 L753.8,256.7 L754.9,253.8 L756.3,251.0 L758.1,248.4 L760.3,246.0 L762.8,243.9 L765.6,242.1 L768.6,240.7 L771.9,239.6 L775.2,239.0 L778.7,238.8 L782.2,239.1 L785.6,239.7 L789.0,240.9 L792.2,242.4 L795.2,244.4 L797.9,246.8 L800.3,249.5 L802.4,252.5 L804.0,255.8 L805.3,259.2 L806.0,262.9 L806.3,266.6 L806.1,270.4 L805.4,274.1 L804.2,277.7 L802.5,281.2 L800.4,284.5 L797.8,287.5 L794.8,290.1 L791.5,292.4 L787.9,294.2 L784.1,295.6 L780.1,296.5 L776.0,296.8 L771.8,296.7 L767.7,296.0 L763.7,294.8 L759.9,293.1 L756.2,290.9 L752.9,288.2 L750.0,285.1 L747.5,281.6 L745.4,277.9 L743.9,273.9 L742.9,269.6 L742.5,265.3 L742.6,260.9 L743.3,256.6 L744.6,252.3 L746.5,248.3 L748.9,244.4 L751.8,240.9 L755.2,237.8 L759.0,235.1 L763.2,233.0 L767.6,231.3 L772.2,230.2 L777.0,229.7" fill="none" stroke="#f9a5c1" stroke-width="5.5" stroke-linecap="round" stroke-linejoin="round"/>
<circle cx="776" cy="261" r="3" fill="#f9a5c1"/>
<path d="M762.0,218.0 C759.7,218.3 754.7,221.0 748.0,220.0 C741.3,219.0 726.3,213.3 722.0,212.0" fill="none" stroke="#67c4c6" stroke-width="2.0" stroke-linecap="round" stroke-linejoin="round" />
<path d="M762.0,218.0 C759.7,218.3 754.7,220.4 748.0,220.0 C741.3,219.6 726.1,216.3 721.7,215.6" fill="none" stroke="#67c4c6" stroke-width="2.0" stroke-linecap="round" stroke-linejoin="round" />
<path d="M762.0,218.0 C759.7,218.3 754.8,219.8 748.0,220.0 C741.2,220.2 725.8,219.3 721.4,219.2" fill="none" stroke="#67c4c6" stroke-width="2.0" stroke-linecap="round" stroke-linejoin="round" />
<path d="M762.0,218.0 C759.7,218.3 754.8,219.2 748.0,220.0 C741.2,220.8 725.6,222.3 721.1,222.8" fill="none" stroke="#67c4c6" stroke-width="2.0" stroke-linecap="round" stroke-linejoin="round" />
<path d="M762.0,218.0 C759.7,218.3 754.9,218.6 748.0,220.0 C741.1,221.4 725.3,225.3 720.8,226.4" fill="none" stroke="#67c4c6" stroke-width="2.0" stroke-linecap="round" stroke-linejoin="round" />
<path d="M762.0,218.0 C759.7,218.3 754.9,218.0 748.0,220.0 C741.1,222.0 725.1,228.3 720.5,230.0" fill="none" stroke="#67c4c6" stroke-width="2.0" stroke-linecap="round" stroke-linejoin="round" />
<path d="M762.0,218.0 C759.7,218.3 755.0,217.4 748.0,220.0 C741.0,222.6 724.8,231.3 720.2,233.6" fill="none" stroke="#67c4c6" stroke-width="2.0" stroke-linecap="round" stroke-linejoin="round" />
<path d="M762.0,218.0 C759.7,218.3 755.0,216.8 748.0,220.0 C741.0,223.2 724.6,234.3 719.9,237.2" fill="none" stroke="#67c4c6" stroke-width="2.0" stroke-linecap="round" stroke-linejoin="round" />
<path d="M828,132 C833,126 840,126 843,131 L772,228 L757,229 L760,213 L785,185Z" fill="#67c4c6"/>
<path d="M836,129 C842,125 852,128 855,135 C857,140 857,143 855,146 L825,185 L797,219 L786,233 L768,242 L750,244 L771,228Z" fill="#67c4c6"/>
<ellipse cx="843" cy="137" rx="14" ry="7" transform="rotate(40 843 137)" fill="#67c4c6"/>
<path d="M833,131 L764.0,213" stroke="#50adb1" stroke-width="0.8" opacity="0.55"/>
<path d="M843.0,134 L776.0,227.0" stroke="#50adb1" stroke-width="0.8" opacity="0.55"/>
<path d="M836,132 L767.5,216" stroke="#50adb1" stroke-width="0.8" opacity="0.55"/>
<path d="M846.5,136 L779.5,229.5" stroke="#50adb1" stroke-width="0.8" opacity="0.55"/>
<path d="M839,133 L771.0,219" stroke="#50adb1" stroke-width="0.8" opacity="0.55"/>
<path d="M850.0,138 L783.0,232.0" stroke="#50adb1" stroke-width="0.8" opacity="0.55"/>
<path d="M842,134 L774.5,222" stroke="#50adb1" stroke-width="0.8" opacity="0.55"/>
<path d="M853.5,140 L786.5,234.5" stroke="#50adb1" stroke-width="0.8" opacity="0.55"/>
<path d="M836,130 L770,214" stroke="#8ad6d6" stroke-width="1.4" opacity="0.6"/>
<path d="M846,134 L782,224" stroke="#8ad6d6" stroke-width="1.4" opacity="0.6"/>
<path d="M822,163 C814,180 802,197 788,213 C804,196 816,180 822,163Z" fill="#f4e3d5" stroke="#f4e3d5" stroke-width="1.4"/>
<g stroke="#474747" stroke-width="1.3" fill="none">
<line x1="237.4" y1="75.8" x2="279.9" y2="141.8"/>
<line x1="168.6" y1="123.2" x2="218.8" y2="183.4"/>
<line x1="140.1" y1="202.3" x2="168.9" y2="215.2"/>
<line x1="147.4" y1="288.8" x2="246.8" y2="288.8"/>
<line x1="171" y1="399.2" x2="209.5" y2="390"/>
<line x1="239" y1="479.5" x2="282" y2="458.8"/>
<line x1="393.9" y1="108.7" x2="373" y2="171.8"/>
<line x1="430.3" y1="159.5" x2="371" y2="211.9"/>
<line x1="527.8" y1="167.5" x2="624.8" y2="211.8"/>
<line x1="611.5" y1="103.1" x2="644.9" y2="241.9"/>
<line x1="666.6" y1="90.2" x2="687.9" y2="250.5"/>
<line x1="745.7" y1="88.8" x2="690.4" y2="179.1"/>
<line x1="745.7" y1="88.8" x2="720.5" y2="171.9"/>
<line x1="745.7" y1="88.8" x2="752.6" y2="153.9"/>
<line x1="836.3" y1="105.1" x2="816.6" y2="162.5"/>
<line x1="864.7" y1="199.7" x2="822.7" y2="180.4"/>
<line x1="864.7" y1="253.5" x2="794" y2="257"/>
<line x1="853.2" y1="307.6" x2="697.5" y2="244.5"/>
<line x1="846" y1="345.3" x2="713.3" y2="256"/>
<line x1="847.8" y1="400.8" x2="798.7" y2="425.9"/>
<line x1="457" y1="275" x2="457" y2="379.2"/>
<line x1="602.2" y1="393.3" x2="612.1" y2="290.3"/>
<line x1="699" y1="402" x2="699" y2="303.8"/>
</g>
<g>
<text x="176.9" y="64.4" textLength="73.2" lengthAdjust="spacingAndGlyphs">Cartilage</text>
<text x="97.7" y="119.1" textLength="72.2" lengthAdjust="spacingAndGlyphs">Antihelix</text>
<text x="94.1" y="204.4" textLength="40.2" lengthAdjust="spacingAndGlyphs">Helix</text>
<text x="81.2" y="293.1" textLength="59.2" lengthAdjust="spacingAndGlyphs">Cancha</text>
<text x="121.5" y="404.4" textLength="44.8" lengthAdjust="spacingAndGlyphs">Pinna</text>
<text x="194.6" y="499.5" textLength="70.6" lengthAdjust="spacingAndGlyphs">Auditory</text>
<text x="198.1" y="521.9" textLength="39.8" lengthAdjust="spacingAndGlyphs">bulla</text>
<text x="351.2" y="103.0" textLength="122.5" lengthAdjust="spacingAndGlyphs">Temporal bone</text>
<text x="412.3" y="152.6" textLength="57.2" lengthAdjust="spacingAndGlyphs">Muscle</text>
<text x="494.0" y="162.3" textLength="62.0" lengthAdjust="spacingAndGlyphs">Malleus</text>
<text x="590.1" y="98.2" textLength="42.8" lengthAdjust="spacingAndGlyphs">Incus</text>
<text x="640.0" y="87.3" textLength="60.2" lengthAdjust="spacingAndGlyphs">Strapes</text>
<text x="722.5" y="58.7" textLength="107.9" lengthAdjust="spacingAndGlyphs">Semicircular</text>
<text x="722.5" y="83.9" textLength="55.2" lengthAdjust="spacingAndGlyphs">canals</text>
<text x="814.8" y="101.5" textLength="131.2" lengthAdjust="spacingAndGlyphs">Vestibular nerve</text>
<text x="871.0" y="195.4" textLength="71.4" lengthAdjust="spacingAndGlyphs">Cochlear</text>
<text x="875.7" y="218.7" textLength="46.0" lengthAdjust="spacingAndGlyphs">nerve</text>
<text x="871.0" y="259.2" textLength="65.0" lengthAdjust="spacingAndGlyphs">Cochlea</text>
<text x="856.7" y="316.6" textLength="102.6" lengthAdjust="spacingAndGlyphs">Oval wndow</text>
<text x="848.8" y="354.2" textLength="123.1" lengthAdjust="spacingAndGlyphs">Round window</text>
<text x="832.7" y="393.7" textLength="130.2" lengthAdjust="spacingAndGlyphs">Eustachian Tube</text>
<text x="423.1" y="400.3" textLength="70.5" lengthAdjust="spacingAndGlyphs">Auditory</text>
<text x="426.6" y="423.2" textLength="42.4" lengthAdjust="spacingAndGlyphs">canal</text>
<text x="560.2" y="410.9" textLength="79.2" lengthAdjust="spacingAndGlyphs">Tympanic</text>
<text x="560.2" y="433.7" textLength="89.2" lengthAdjust="spacingAndGlyphs">Membrane</text>
<text x="663.6" y="417.9" textLength="78.6" lengthAdjust="spacingAndGlyphs">Tympanic</text>
<text x="667.2" y="441.8" textLength="50.4" lengthAdjust="spacingAndGlyphs">Cavity</text>
</g>
</svg>
</body></html>
